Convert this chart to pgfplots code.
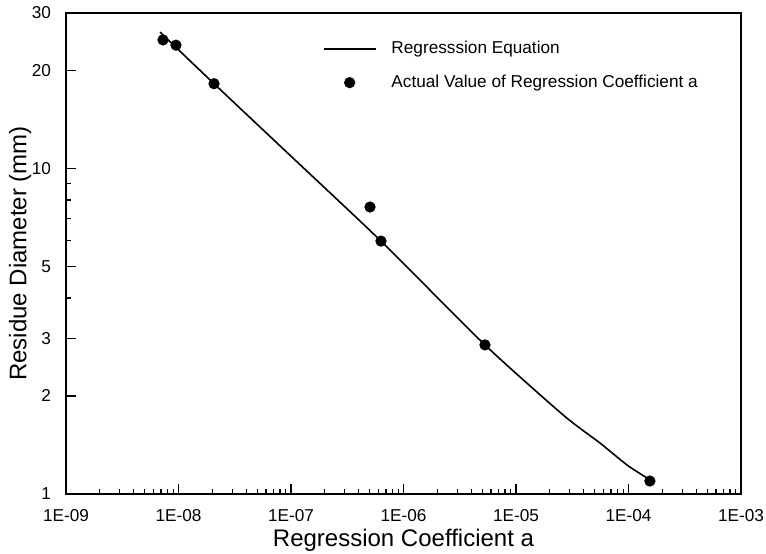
\documentclass[border=0pt]{standalone}
\usepackage{fontspec}
\setmainfont{Liberation Sans}
\usepackage{pgfplots}
\pgfplotsset{compat=1.18}
\newcommand{\legfont}{\fontsize{8.6}{10}\selectfont}
\begin{document}
\begin{tikzpicture}
\begin{axis}[
    name=ax,
    xmode=log, ymode=log,
    scale only axis,
    width=337.5pt, height=240.5pt,
    xmin=1e-9, xmax=1e-3,
    ymin=1, ymax=30,
    xtick={1e-9,1e-8,1e-7,1e-6,1e-5,1e-4,1e-3},
    xticklabels={1E-09,1E-08,1E-07,1E-06,1E-05,1E-04,1E-03},
    minor xtick={2e-9,3e-9,4e-9,5e-9,6e-9,7e-9,8e-9,9e-9,
                 2e-8,3e-8,4e-8,5e-8,6e-8,7e-8,8e-8,9e-8,
                 2e-7,3e-7,4e-7,5e-7,6e-7,7e-7,8e-7,9e-7,
                 2e-6,3e-6,4e-6,5e-6,6e-6,7e-6,8e-6,9e-6,
                 2e-5,3e-5,4e-5,5e-5,6e-5,7e-5,8e-5,9e-5,
                 2e-4,3e-4,4e-4,5e-4,6e-4,7e-4,8e-4,9e-4},
    ytick={1,2,3,5,10,20,30},
    yticklabels={1,2,3,5,10,20,30},
    minor ytick={4,6,7,8,9},
    tick align=inside,
    xtick pos=lower, ytick pos=left,
    major tick length=5pt, minor tick length=2.5pt,
    axis line style={line width=1pt},
    every tick/.style={black, line width=0.6pt},
    xticklabel style={font=\fontsize{8.6}{10}\selectfont, yshift=-4pt},
    yticklabel style={font=\fontsize{8.6}{10}\selectfont, xshift=-4pt},
    xlabel={Regression Coefficient a},
    ylabel={Residue Diameter (mm)},
    xlabel style={font=\fontsize{12}{14}\selectfont, at={(axis description cs:0.5,0)}, anchor=center, yshift=-23pt},
    ylabel style={font=\fontsize{12}{14}\selectfont, at={(axis description cs:-0.068,0.5)}, rotate=0, anchor=center},
    legend style={draw=none, fill=none, at={(0.38,0.890)}, anchor=west,
        inner sep=0pt, row sep=9pt, column sep=7.5pt,
        nodes={inner sep=0pt}},
    legend cell align=left,
    legend image code/.code={\draw[#1,mark repeat=2,mark phase=2] plot coordinates {(0pt,0pt)(13pt,0pt)(26pt,0pt)};},
]
\addplot[black, line width=0.8pt, smooth, tension=0.4] coordinates {
    (6.86e-9,26.2) (2.07e-8,18.2) (1e-7,10.9) (6.31e-7,5.98) (5.3e-6,2.87)
    (2.62e-5,1.75) (5.58e-5,1.434) (9.7e-5,1.228) (1.46e-4,1.12)
};
\addlegendentry{\legfont Regresssion Equation}
\addplot[only marks, mark=*, mark size=2.6pt, black] coordinates {
    (7.28e-9,24.8) (9.5e-9,23.9) (2.07e-8,18.2) (5.04e-7,7.61)
    (6.31e-7,5.98) (5.3e-6,2.87) (1.55e-4,1.096)
};
\addlegendentry{\legfont Actual Value of Regression Coefficient a}
\end{axis}
\pgfresetboundingbox
\path (ax.south west) ++(-33pt,-29.5pt) rectangle ++(383pt,276.5pt);
\end{tikzpicture}
\end{document}
